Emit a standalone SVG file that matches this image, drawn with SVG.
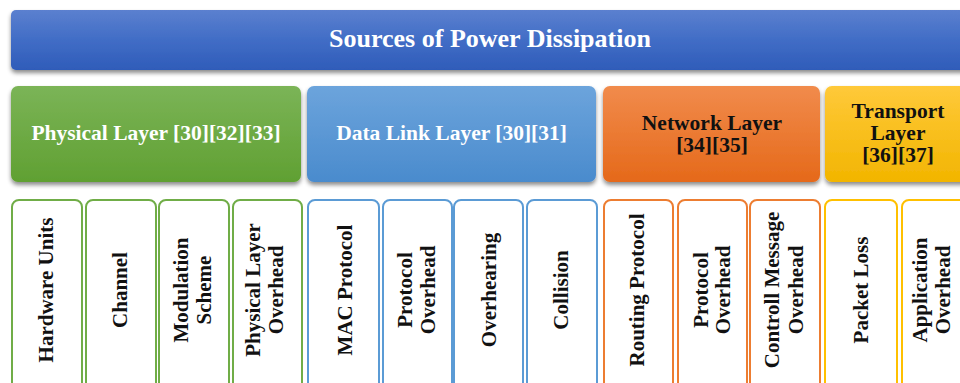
<svg xmlns="http://www.w3.org/2000/svg" width="960" height="383" viewBox="0 0 960 383">
  <defs>
    <linearGradient id="gTitle" x1="0" y1="0" x2="0" y2="1">
      <stop offset="0" stop-color="#5b80cf"/>
      <stop offset="0.5" stop-color="#416dc6"/>
      <stop offset="1" stop-color="#2f5cb9"/>
    </linearGradient>
    <linearGradient id="gGreen" x1="0" y1="0" x2="0" y2="1">
      <stop offset="0" stop-color="#7bb457"/>
      <stop offset="1" stop-color="#60a032"/>
    </linearGradient>
    <linearGradient id="gBlue" x1="0" y1="0" x2="0" y2="1">
      <stop offset="0" stop-color="#6ca4dc"/>
      <stop offset="1" stop-color="#4a8bcd"/>
    </linearGradient>
    <linearGradient id="gOrange" x1="0" y1="0" x2="0" y2="1">
      <stop offset="0" stop-color="#f18b4c"/>
      <stop offset="1" stop-color="#e5691a"/>
    </linearGradient>
    <linearGradient id="gYellow" x1="0" y1="0" x2="0" y2="1">
      <stop offset="0" stop-color="#ffc93a"/>
      <stop offset="1" stop-color="#f2b500"/>
    </linearGradient>
    <filter id="shadow" x="-5%" y="-20%" width="110%" height="150%">
      <feDropShadow dx="0" dy="3" stdDeviation="2" flood-color="#000" flood-opacity="0.45"/>
    </filter>
  </defs>
  <style>
    .hdr { font-family: "Liberation Serif", "Times New Roman", serif; font-weight: bold; text-anchor: middle; }
    .title { font-size: 26px; fill: #ffffff; }
    .lay { font-size: 21.5px; }
    .w { fill: #ffffff; }
    .k { fill: #111111; }
    .item { fill: #ffffff; stroke-width: 2; }
    .ig { stroke: #70ad47; }
    .ib { stroke: #5b9bd5; }
    .io { stroke: #ed7d31; }
    .iy { stroke: #ffc000; }
    .v { font-family: "Liberation Serif", "Times New Roman", serif; font-weight: bold; font-size: 21px; fill: #111111; text-anchor: middle; }
  </style>
  <rect width="960" height="383" fill="#ffffff"/>

  <g id="title">
    <rect x="11" y="10" width="958" height="60" rx="5" fill="url(#gTitle)" filter="url(#shadow)"/>
    <text class="hdr title" x="490" y="47">Sources of Power Dissipation</text>
  </g>

  <g id="physical-layer">
    <rect x="11" y="86" width="290" height="96" rx="7" fill="url(#gGreen)" filter="url(#shadow)"/>
    <text class="hdr lay w" x="156" y="140">Physical Layer [30][32][33]</text>
  </g>
  <g id="data-link-layer">
    <rect x="307" y="86" width="289" height="96" rx="7" fill="url(#gBlue)" filter="url(#shadow)"/>
    <text class="hdr lay w" x="451.5" y="140">Data Link Layer [30][31]</text>
  </g>
  <g id="network-layer">
    <rect x="603" y="86" width="217" height="96" rx="7" fill="url(#gOrange)" filter="url(#shadow)"/>
    <text class="hdr lay k" x="712" y="130">Network Layer</text>
    <text class="hdr lay k" x="712" y="152">[34][35]</text>
  </g>
  <g id="transport-layer">
    <rect x="825" y="86" width="146" height="96" rx="7" fill="url(#gYellow)" filter="url(#shadow)"/>
    <text class="hdr lay k" x="898" y="118">Transport</text>
    <text class="hdr lay k" x="898" y="140">Layer</text>
    <text class="hdr lay k" x="898" y="162">[36][37]</text>
  </g>

  <g id="hardware-units">
    <rect class="item ig" x="12" y="200" width="70" height="200" rx="7"/>
    <text class="v" transform="translate(47,290) rotate(-90)" y="6">Hardware Units</text>
  </g>
  <g id="channel">
    <rect class="item ig" x="86" y="200" width="70" height="200" rx="7"/>
    <text class="v" transform="translate(121,290) rotate(-90)" y="6">Channel</text>
  </g>
  <g id="modulation-scheme">
    <rect class="item ig" x="159" y="200" width="70" height="200" rx="7"/>
    <text class="v" transform="translate(194,290) rotate(-90)"><tspan x="0" y="-6">Modulation</tspan><tspan x="0" y="17">Scheme</tspan></text>
  </g>
  <g id="physical-layer-overhead">
    <rect class="item ig" x="233" y="200" width="69" height="200" rx="7"/>
    <text class="v" transform="translate(267.5,290) rotate(-90)"><tspan x="0" y="-8">Physical Layer</tspan><tspan x="0" y="15">Overhead</tspan></text>
  </g>

  <g id="mac-protocol">
    <rect class="item ib" x="308" y="200" width="71" height="200" rx="7"/>
    <text class="v" transform="translate(343.5,290) rotate(-90)" y="8">MAC Protocol</text>
  </g>
  <g id="dl-protocol-overhead">
    <rect class="item ib" x="383" y="200" width="69" height="200" rx="7"/>
    <text class="v" transform="translate(417,290) rotate(-90)"><tspan x="0" y="-5">Protocol</tspan><tspan x="0" y="18">Overhead</tspan></text>
  </g>
  <g id="overhearing">
    <rect class="item ib" x="454" y="200" width="69" height="200" rx="7"/>
    <text class="v" transform="translate(488,290) rotate(-90)" y="8">Overhearing</text>
  </g>
  <g id="collision">
    <rect class="item ib" x="527" y="200" width="70" height="200" rx="7"/>
    <text class="v" transform="translate(562,290) rotate(-90)" y="6">Collision</text>
  </g>

  <g id="routing-protocol">
    <rect class="item io" x="604" y="200" width="69" height="200" rx="7"/>
    <text class="v" transform="translate(638,290) rotate(-90)" y="6">Routing Protocol</text>
  </g>
  <g id="nw-protocol-overhead">
    <rect class="item io" x="678" y="200" width="69" height="200" rx="7"/>
    <text class="v" transform="translate(712,290) rotate(-90)"><tspan x="0" y="-4">Protocol</tspan><tspan x="0" y="18">Overhead</tspan></text>
  </g>
  <g id="controll-message-overhead">
    <rect class="item io" x="750" y="200" width="70" height="200" rx="7"/>
    <text class="v" transform="translate(785,290) rotate(-90)"><tspan x="0" y="-6">Controll Message</tspan><tspan x="0" y="18">Overhead</tspan></text>
  </g>

  <g id="packet-loss">
    <rect class="item iy" x="825" y="200" width="72" height="200" rx="7"/>
    <text class="v" transform="translate(861,290) rotate(-90)" y="7">Packet Loss</text>
  </g>
  <g id="application-overhead">
    <rect class="item iy" x="902" y="200" width="70" height="200" rx="7"/>
    <text class="v" transform="translate(933,290) rotate(-90)"><tspan x="0" y="-6">Application</tspan><tspan x="0" y="17">Overhead</tspan></text>
  </g>

  <g id="connectors"/>
</svg>
